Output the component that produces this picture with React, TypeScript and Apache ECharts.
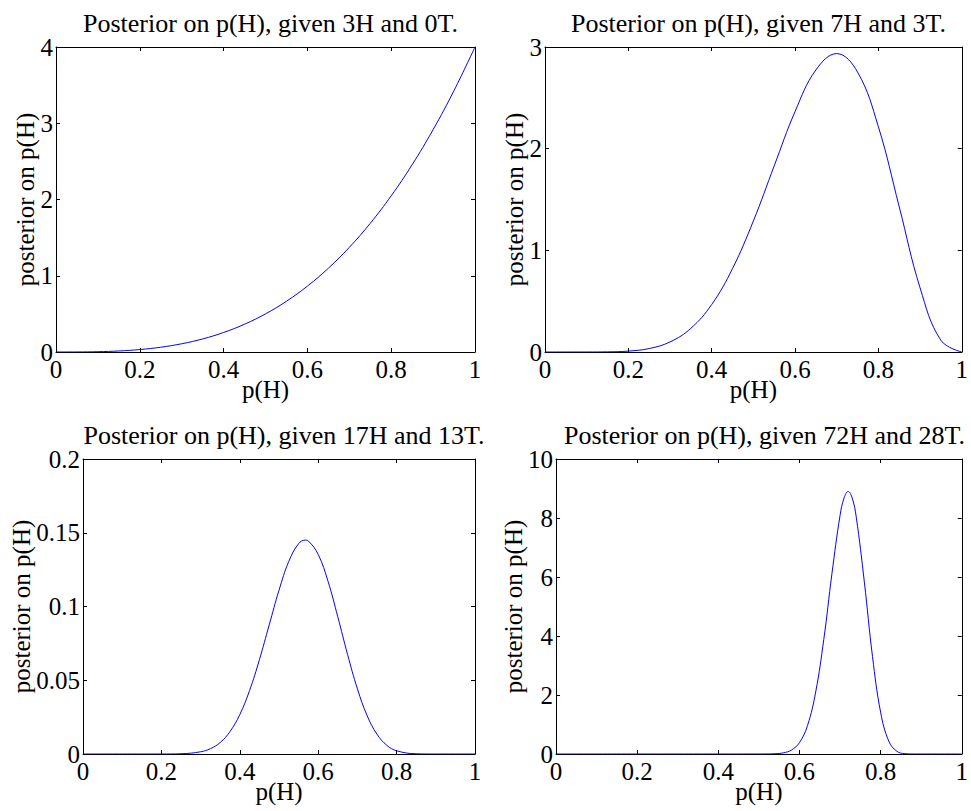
import React, { useEffect, useRef } from "react";
import * as echarts from "echarts";

const TITLES = [
  "Posterior on p(H), given 3H and 0T.",
  "Posterior on p(H), given 7H and 3T.",
  "Posterior on p(H), given 17H and 13T.",
  "Posterior on p(H), given 72H and 28T.",
];
const X_NAME = "p(H)";
const Y_NAME = "posterior on p(H)";

const X_TICKS = { min: 0, max: 1, interval: 0.2 };
const Y_MAX = [4, 3, 0.2, 10];
const Y_INTERVAL = [1, 1, 0.05, 2];

const X1 = [0, 0.05, 0.1, 0.15, 0.2, 0.25, 0.3, 0.35, 0.4, 0.45, 0.5, 0.55, 0.6, 0.65, 0.7, 0.75, 0.8, 0.85, 0.9, 0.95, 1];
const Y1 = [0, 0.0005, 0.004, 0.0135, 0.032, 0.0625, 0.108, 0.1715, 0.256, 0.3645, 0.5, 0.6655, 0.864, 1.0985, 1.372, 1.6875, 2.048, 2.4565, 2.916, 3.4295, 4];

const X2 = [0, 0.05, 0.1, 0.15, 0.2, 0.25, 0.3, 0.35, 0.4, 0.45, 0.5, 0.55, 0.6, 0.65, 0.7, 0.75, 0.8, 0.85, 0.9, 0.95, 1];
const Y2 = [0, 0, 0.0001, 0.0014, 0.0087, 0.034, 0.099, 0.233, 0.467, 0.821, 1.289, 1.831, 2.365, 2.774, 2.935, 2.753, 2.215, 1.428, 0.631, 0.115, 0];

const X3 = [0, 0.1, 0.2, 0.25, 0.3, 0.325, 0.35, 0.375, 0.4, 0.425, 0.45, 0.475, 0.5, 0.525, 0.55, 0.5667, 0.575, 0.6, 0.625, 0.65, 0.675, 0.7, 0.725, 0.75, 0.775, 0.8, 0.85, 0.9, 1];
const Y3 = [0, 0, 0, 0.00017, 0.0015, 0.0036, 0.0078, 0.0152, 0.0267, 0.0431, 0.0639, 0.0875, 0.111, 0.1306, 0.1426, 0.145, 0.1444, 0.1353, 0.1171, 0.093, 0.0674, 0.0442, 0.0259, 0.0134, 0.0059, 0.0022, 0.00015, 0, 0];

const X4 = [0, 0.1, 0.2, 0.3, 0.4, 0.46, 0.5, 0.52, 0.54, 0.56, 0.58, 0.6, 0.62, 0.64, 0.66, 0.68, 0.7, 0.71, 0.72, 0.73, 0.74, 0.76, 0.78, 0.8, 0.82, 0.84, 0.86, 0.88, 0.9, 0.95, 1];
const Y4 = [0, 0, 0, 0, 0, 0, 0.0004, 0.002, 0.0098, 0.0387, 0.131, 0.385, 0.97, 2.1, 3.884, 6.107, 8.082, 8.683, 8.9, 8.678, 8.03, 5.824, 3.308, 1.42, 0.44, 0.092, 0.012, 0.0008, 0, 0, 0];

const XS = [X1, X2, X3, X4];
const YS = [Y1, Y2, Y3, Y4];

const GRIDS = [
  { left: 56, top: 47, width: 419, height: 305 },
  { left: 545, top: 47, width: 417, height: 305 },
  { left: 83, top: 459, width: 392, height: 295 },
  { left: 556, top: 459, width: 407, height: 295 },
];
const Y_NAME_GAP = [18, 18, 49, 30];

const FONT = "Liberation Serif";
const TICK_SIZE = 25;
const TITLE_SIZE = 26;

export default function App() {
  const ref = useRef<HTMLDivElement>(null);
  useEffect(() => {
    if (!ref.current) return;
    const chart = echarts.init(ref.current, undefined, { renderer: "svg" });
    const xAxis: any[] = [];
    const yAxis: any[] = [];
    const series: any[] = [];
    const title: any[] = [];
    const lineStyle = { color: "#000", width: 1 };
    GRIDS.forEach((g, i) => {
      const tick = { show: true, inside: true, length: 4, lineStyle };
      xAxis.push({
        type: "value", gridIndex: i, position: "bottom", ...X_TICKS,
        axisLine: { show: true, onZero: false, lineStyle },
        axisTick: tick,
        axisLabel: { color: "#000", fontFamily: FONT, fontSize: TICK_SIZE, margin: 5 },
        splitLine: { show: false },
        name: X_NAME, nameLocation: "middle", nameGap: 25, nameMoveOverlap: false,
        nameTextStyle: { color: "#000", fontFamily: FONT, fontSize: TICK_SIZE },
      });
      xAxis.push({
        type: "value", gridIndex: i, position: "top", ...X_TICKS,
        axisLine: { show: true, onZero: false, lineStyle },
        axisTick: tick,
        axisLabel: { show: false },
        splitLine: { show: false },
      });
      yAxis.push({
        type: "value", gridIndex: i, position: "left", min: 0, max: Y_MAX[i], interval: Y_INTERVAL[i],
        axisLine: { show: true, onZero: false, lineStyle },
        axisTick: tick,
        axisLabel: { color: "#000", fontFamily: FONT, fontSize: TICK_SIZE, margin: 3 },
        splitLine: { show: false },
        name: Y_NAME, nameLocation: "middle", nameGap: Y_NAME_GAP[i], nameMoveOverlap: false,
        nameTextStyle: { color: "#000", fontFamily: FONT, fontSize: TICK_SIZE },
      });
      yAxis.push({
        type: "value", gridIndex: i, position: "right", min: 0, max: Y_MAX[i], interval: Y_INTERVAL[i],
        axisLine: { show: true, onZero: false, lineStyle },
        axisTick: tick,
        axisLabel: { show: false },
        splitLine: { show: false },
      });
      series.push({
        type: "line", xAxisIndex: i * 2, yAxisIndex: i * 2,
        data: XS[i].map((x, k) => [x, YS[i][k]]),
        smooth: 0.4, symbol: "none",
        lineStyle: { color: "#0000ff", width: 1 },
      });
      title.push({
        text: TITLES[i],
        left: g.left + g.width / 2, top: g.top - 42, textAlign: "center",
        textStyle: { color: "#000", fontFamily: FONT, fontSize: TITLE_SIZE, fontWeight: "normal" },
      });
    });
    chart.setOption({
      animation: false,
      backgroundColor: "#fff",
      title,
      grid: GRIDS.map((g) => ({ ...g, containLabel: false })),
      xAxis, yAxis, series,
    });
    return () => chart.dispose();
  }, []);
  return <div ref={ref} style={{ position: "fixed", left: 0, top: 0, width: 971, height: 811, background: "#fff" }} />;
}
